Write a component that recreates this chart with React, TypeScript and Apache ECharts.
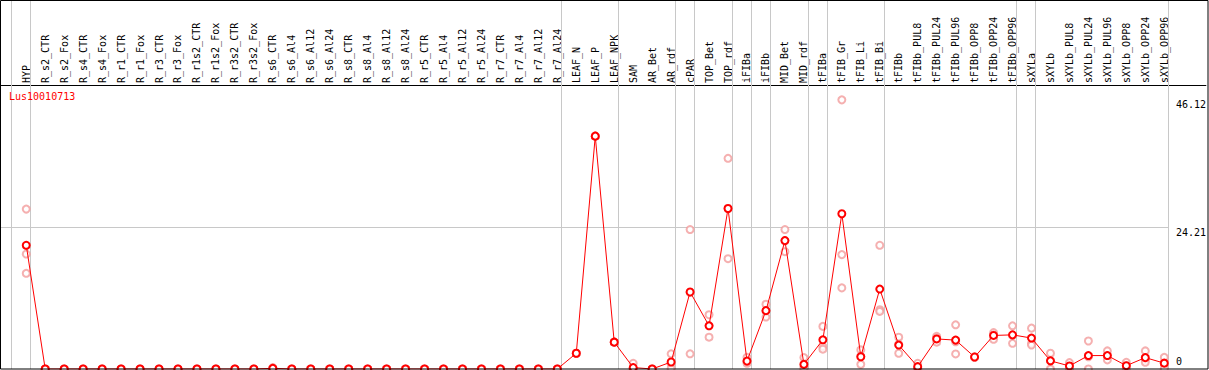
import React, { useEffect, useRef } from "react";
import * as echarts from "echarts";

const GENE = "Lus10010713";

const CATS = [
  "HYP", "R_s2_CTR", "R_s2_Fox", "R_s4_CTR", "R_s4_Fox", "R_r1_CTR", "R_r1_Fox",
  "R_r3_CTR", "R_r3_Fox", "R_r1s2_CTR", "R_r1s2_Fox", "R_r3s2_CTR", "R_r3s2_Fox",
  "R_s6_CTR", "R_s6_Al4", "R_s6_Al12", "R_s6_Al24", "R_s8_CTR", "R_s8_Al4",
  "R_s8_Al12", "R_s8_Al24", "R_r5_CTR", "R_r5_Al4", "R_r5_Al12", "R_r5_Al24",
  "R_r7_CTR", "R_r7_Al4", "R_r7_Al12", "R_r7_Al24", "LEAF_N", "LEAF_P", "LEAF_NPK",
  "SAM", "AR_Bet", "AR_rdf", "cPAR", "TOP_Bet", "TOP_rdf", "iFIBa", "iFIBb",
  "MID_Bet", "MID_rdf", "tFIBa", "tFIB_Gr", "tFIB_Li", "tFIB_Bi", "tFIBb",
  "tFIBb_PUL8", "tFIBb_PUL24", "tFIBb_PUL96", "tFIBb_OPP8", "tFIBb_OPP24",
  "tFIBb_OPP96", "sXYLa", "sXYLb", "sXYLb_PUL8", "sXYLb_PUL24", "sXYLb_PUL96",
  "sXYLb_OPP8", "sXYLb_OPP24", "sXYLb_OPP96",
];

const MEANS = [
  21.2, 0, 0, 0, 0, 0, 0, 0, 0, 0, 0, 0, 0,
  0.12, 0, 0, 0, 0, 0, 0, 0, 0, 0, 0, 0, 0, 0, 0, 0,
  2.7, 39.9, 4.6,
  0.25, 0, 1.2, 13.2, 7.4, 27.5, 1.35, 10.0,
  22.0, 0.8, 5.0, 26.6, 2.1, 13.7, 4.1,
  0.4, 5.15, 4.95, 2.05, 5.75, 5.85,
  5.3, 1.4, 0.52, 2.3, 2.3, 0.57, 1.95, 1.0,
];

const REP_A = [
  27.4, 0, 0, 0, 0, 0, 0, 0, 0, 0, 0, 0, 0,
  0.25, 0, 0, 0, 0, 0, 0, 0, 0, 0, 0, 0, 0, 0, 0, 0,
  2.7, 39.9, 4.6,
  0.98, 0, 2.6, 23.9, 9.3, 36.1, 2.0, 11.1,
  23.9, 1.95, 7.3, 46.12, 3.27, 21.2, 5.45,
  0.98, 5.6, 7.57, 2.1, 6.25, 7.4,
  7.0, 2.7, 1.1, 4.8, 3.1, 1.15, 3.1, 2.0,
];

const REP_B = [
  19.7, 0, 0, 0, 0, 0, 0, 0, 0, 0, 0, 0, 0,
  0.1, 0, 0, 0, 0, 0, 0, 0, 0, 0, 0, 0, 0, 0, 0, 0,
  2.7, 39.9, 4.6,
  0, 0, 0.9, 13.1, 7.45, 27.5, 1.3, 10.0,
  22.0, 0.45, 3.85, 19.6, 2.2, 10.15, 4.25,
  0.22, 5.3, 4.67, 2.0, 5.85, 5.75,
  4.4, 1.45, 0.45, 2.1, 2.25, 0.55, 1.6, 0.95,
];

const REP_C = [
  16.4, 0, 0, 0, 0, 0, 0, 0, 0, 0, 0, 0, 0,
  0, 0, 0, 0, 0, 0, 0, 0, 0, 0, 0, 0, 0, 0, 0, 0,
  2.7, 39.9, 4.6,
  0, 0, 0.1, 2.6, 5.45, 18.9, 0.98, 8.9,
  20.1, 0, 3.4, 13.9, 0.8, 9.86, 2.7,
  0, 4.6, 2.58, 2.05, 5.1, 4.4,
  4.1, 0, 0, 0, 1.55, 0, 1.15, 0,
];

// category index after which a vertical divider is drawn (-1 = before the first)
const DIVIDERS = [-1, 0, 28, 31, 34, 35, 37, 38, 39, 41, 42, 45, 52, 53, 60];
const Y_GRID = 24.21;
const Y_TICKS = [24.21, 46.12];
const Y_ZERO = [0];

// axis extents (category index units / value units)
const X_MIN = -1.384;
const X_MAX = 62.195;
const Y_MAX = 63.23;

const MONO = "'DejaVu Sans Mono', monospace";

export default function App() {
  const ref = useRef<HTMLDivElement>(null);

  useEffect(() => {
    if (!ref.current) return;
    const chart = echarts.init(ref.current, undefined, { renderer: "svg" });
    const pink = "#f29c9c";
    const repSeries = [REP_A, REP_B, REP_C].map((arr, k) => ({
      type: "scatter",
      name: "rep" + k,
      data: arr.map((v, i) => [i, v]),
      symbol: "emptyCircle",
      symbolSize: 7,
      itemStyle: { color: pink, borderColor: pink, borderWidth: 1.5 },
      z: 3,
      silent: true,
    }));

    chart.setOption({
      animation: false,
      backgroundColor: "#fff",
      title: {
        text: GENE,
        left: 9,
        top: 91,
        padding: 0,
        textStyle: { color: "#ff0000", fontSize: 10, fontFamily: MONO, fontWeight: "normal" },
      },
      grid: { left: 0, right: 1, top: 0, bottom: 1, containLabel: false },
      xAxis: {
        type: "value",
        min: X_MIN,
        max: X_MAX,
        position: "top",
        offset: -85,
        axisLine: { show: true, onZero: false, lineStyle: { color: "#000", width: 1 } },
        axisTick: { show: false },
        splitLine: { show: false },
        axisLabel: {
          customValues: CATS.map((_, i) => i),
          formatter: (v: number) => CATS[Math.round(v)] ?? "",
          rotate: -90,
          margin: 2,
          color: "#000",
          fontSize: 10,
          fontFamily: MONO,
        },
      },
      yAxis: [
        {
          type: "value",
          min: 0,
          max: Y_MAX,
          position: "right",
          offset: -30,
          axisLine: { show: false },
          axisTick: { show: false },
          splitLine: { show: false },
          axisLabel: {
            customValues: Y_TICKS,
            formatter: (v: number) => String(v),
            margin: 0,
            verticalAlign: "top",
            align: "left",
            color: "#000",
            fontSize: 10,
            fontFamily: MONO,
          },
        },
        {
          type: "value",
          min: 0,
          max: Y_MAX,
          position: "right",
          offset: -30,
          axisLine: { show: false },
          axisTick: { show: false },
          splitLine: { show: false },
          axisLabel: {
            customValues: Y_ZERO,
            formatter: (v: number) => String(v),
            margin: 0,
            verticalAlign: "bottom",
            align: "left",
            padding: [0, 0, 3, 0],
            color: "#000",
            fontSize: 10,
            fontFamily: MONO,
          },
        },
      ],
      graphic: [
        {
          type: "rect",
          shape: { x: 0.5, y: 0.5, width: 1207.5, height: 368.5 },
          style: { fill: "none", stroke: "#000", lineWidth: 1 },
          silent: true,
          z: 100,
        },
      ],
      series: [
        ...repSeries,
        {
          type: "line",
          name: "mean",
          data: MEANS.map((v, i) => [i, v]),
          symbol: "emptyCircle",
          symbolSize: 7,
          color: "#ff0000",
          lineStyle: { color: "#ff0000", width: 1 },
          itemStyle: { color: "#ff0000", borderColor: "#ff0000", borderWidth: 1.5 },
          z: 5,
          silent: true,
          markLine: {
            silent: true,
            symbol: "none",
            label: { show: false },
            lineStyle: { color: "#c8c8c8", type: "solid", width: 1 },
            z: 1,
            data: [
              ...DIVIDERS.map((d) => ({ xAxis: d + 0.22 })),
              [
                { coord: [X_MIN, Y_GRID] },
                { coord: [60.22, Y_GRID] },
              ],
            ],
          },
        },
      ],
    });
    return () => chart.dispose();
  }, []);

  return (
    <div
      ref={ref}
      style={{ position: "fixed", left: 0, top: 0, width: 1209, height: 370, background: "#fff" }}
    />
  );
}
